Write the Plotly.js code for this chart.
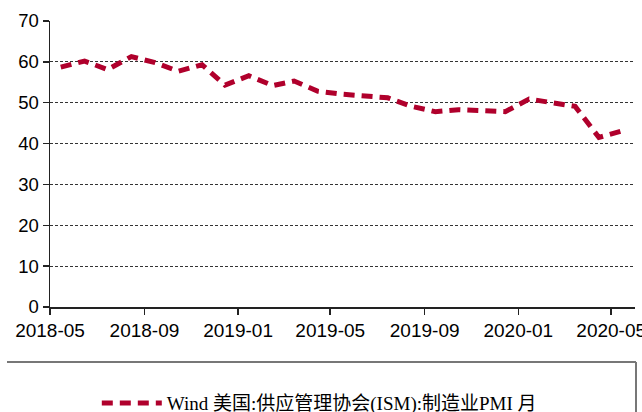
<!DOCTYPE html>
<html>
<head>
<meta charset="utf-8">
<script src="https://cdn.plot.ly/plotly-3.0.1.min.js"></script>
<style>
html,body{margin:0;padding:0;background:#fff;}
#chart{width:642px;height:412px;}
</style>
</head>
<body>
<div id="chart"></div>
<script>
// Monthly observations (plotted mid-month)
const months = ["2018-05","2018-06","2018-07","2018-08","2018-09","2018-10","2018-11","2018-12",
  "2019-01","2019-02","2019-03","2019-04","2019-05","2019-06","2019-07","2019-08","2019-09",
  "2019-10","2019-11","2019-12","2020-01","2020-02","2020-03","2020-04","2020-05"];
const pmi = [58.7,60.2,58.1,61.3,59.8,57.7,59.3,54.3,56.6,54.2,55.3,52.8,52.1,51.7,51.2,49.1,47.8,
  48.3,48.1,47.8,50.9,50.1,49.1,41.5,43.1];
const xTicks = ["2018-05","2018-09","2019-01","2019-05","2019-09","2020-01","2020-05"];
const seriesName = "Wind 美国:供应管理协会(ISM):制造业PMI 月";

const trace = {
  x: months.map(m => m + "-15"),
  y: pmi,
  type: "scatter",
  mode: "lines",
  name: seriesName,
  line: {color: "#B0002C", width: 5, dash: "11px,7px"}
};

const layout = {
  width: 642, height: 412,
  margin: {l: 50, r: 7, t: 21, b: 105, autoexpand: false},
  paper_bgcolor: "#fff", plot_bgcolor: "#fff",
  showlegend: true,
  legend: {
    orientation: "h", x: 0.08, y: -0.336, xanchor: "left", yanchor: "middle",
    itemwidth: 60, entrywidth: 470, entrywidthmode: "pixels",
    font: {family: "Liberation Serif, 'Noto Sans CJK SC', serif", size: 19, color: "#000"},
    bgcolor: "rgba(0,0,0,0)"
  },
  xaxis: {
    type: "date",
    range: ["2018-05-01", "2020-06-01"],
    tickvals: xTicks.map(m => m + "-01"),
    ticktext: xTicks,
    ticklabeloverflow: "allow",
    showgrid: false, zeroline: false,
    showline: true, linecolor: "#222", linewidth: 1.5,
    ticks: "outside", ticklen: 6, tickcolor: "#222", tickwidth: 1.5,
    tickfont: {family: "Liberation Sans, Arial, sans-serif", size: 19, color: "#000"}
  },
  yaxis: {
    range: [0, 70],
    tickvals: [0,10,20,30,40,50,60,70],
    showgrid: true, gridcolor: "#333", gridwidth: 1, griddash: "3px,2px",
    zeroline: false,
    showline: true, linecolor: "#222", linewidth: 1.5,
    ticks: "outside", ticklen: 6, tickcolor: "#222", tickwidth: 1.5,
    tickfont: {family: "Liberation Sans, Arial, sans-serif", size: 18.5, color: "#000"}
  },
  shapes: [
    {type: "line", xref: "paper", yref: "paper", x0: -0.0735, x1: 1.0017, y0: -0.1923, y1: -0.1923,
     line: {color: "#777", width: 2}},
    {type: "line", xref: "paper", yref: "paper", x0: 1.0017, x1: 1.0017, y0: -0.1923, y1: -0.4,
     line: {color: "#777", width: 2}}
  ]
};

Plotly.newPlot("chart", [trace], layout, {displayModeBar: false, staticPlot: true});
</script>
</body>
</html>
